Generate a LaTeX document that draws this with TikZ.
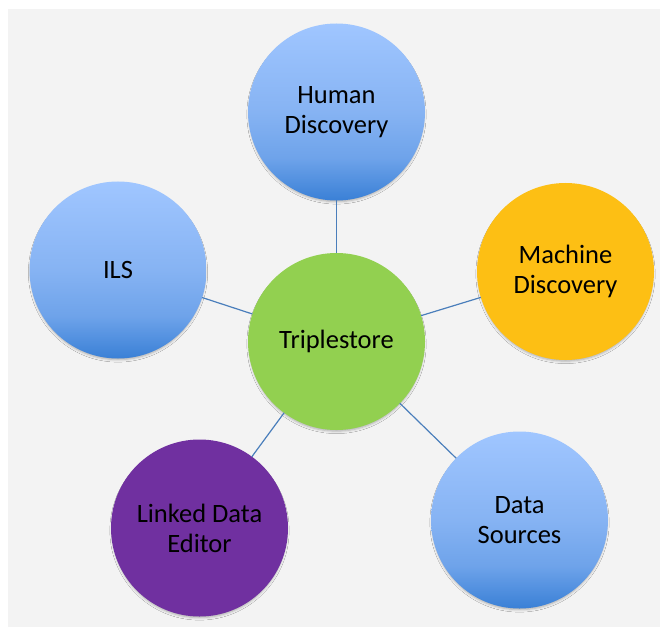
\documentclass[tikz,border=0pt]{standalone}
\usepackage{fontspec}
\setmainfont{Carlito}
\usetikzlibrary{shadows.blur}

\definecolor{panelgray}{HTML}{F3F3F3}
\definecolor{linkblue}{HTML}{4A7EBB}
\definecolor{blueTop}{HTML}{A0C6FF}
\definecolor{blueMid}{HTML}{86B3F3}
\definecolor{blueLow}{HTML}{6EA3EA}
\definecolor{blueBot}{HTML}{3A80D6}
\definecolor{hubgreen}{HTML}{92D050}
\definecolor{hubgold}{HTML}{FDBF14}
\definecolor{hubpurple}{HTML}{7030A0}

% vertical gradient for the blue bubbles (path box spans 25bp..75bp)
\pgfdeclareverticalshading{bubbleblue}{100bp}{%
  color(0bp)=(blueBot); color(25bp)=(blueBot); color(37bp)=(blueLow);
  color(50bp)=(blueMid); color(75bp)=(blueTop); color(100bp)=(blueTop)}

\tikzset{
  bubble/.style={circle, minimum size=177pt, inner sep=0pt, outer sep=0pt,
    align=center, text=black,
    font=\fontsize{26.5}{30}\selectfont,
    blur shadow={shadow xshift=0pt, shadow yshift=-2.5pt, shadow scale=0.985,
                 shadow blur radius=2.5pt, shadow opacity=30}},
  bluebubble/.style={bubble, shading=bubbleblue},
  link/.style={draw=linkblue, line width=1.2pt}
}

\begin{document}
\begin{tikzpicture}[x=1pt, y=-1pt]
  \useasboundingbox (0,0) rectangle (660,628);
  \fill[white] (0,0) rectangle (660,628);
  \fill[panelgray] (8,9) rectangle (660,627);

  \node[bluebubble] (human) at (336.5,112) {Human\\Discovery};
  \node[bluebubble] (ils) at (118,270) {ILS};
  \node[bubble, fill=hubgreen] (tri) at (336.5,341.5) {Triplestore};
  \node[bubble, fill=hubgold] (machine) at (565.5,271.5) {Machine\\Discovery};
  \node[bluebubble] (data) at (519.5,520) {Data\\Sources};
  \node[bubble, fill=hubpurple] (lde) at (199.5,528) {Linked Data\\Editor};

  \draw[link] (human) -- (tri);
  \draw[link] (ils) -- (tri);
  \draw[link] (machine) -- (tri);
  \draw[link] (data) -- (tri);
  \draw[link] (lde) -- (tri);
\end{tikzpicture}
\end{document}
